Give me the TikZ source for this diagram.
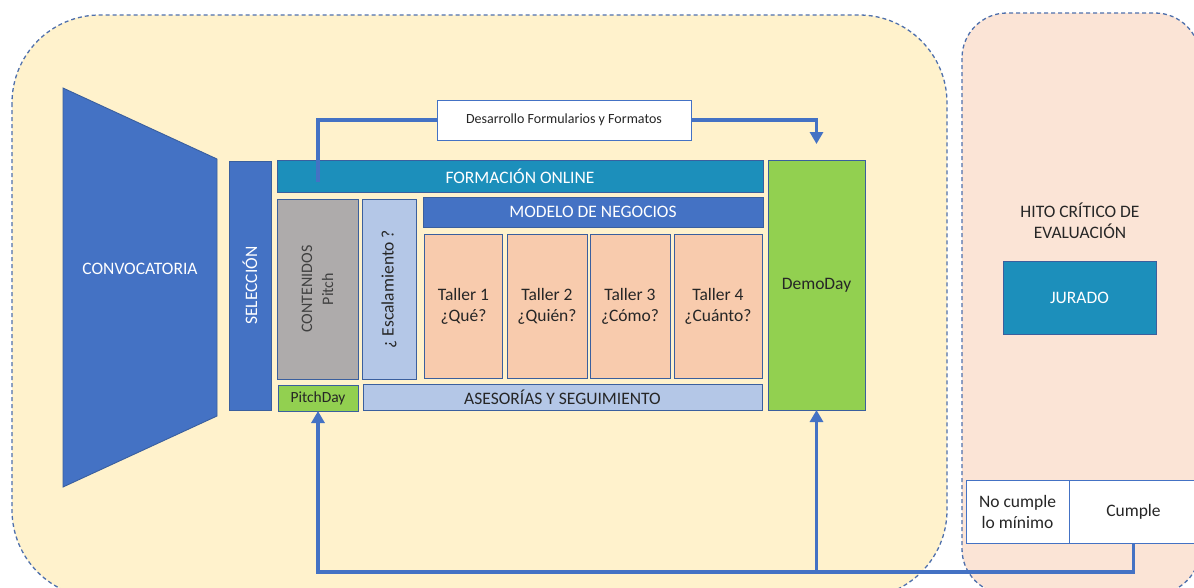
\documentclass[tikz,border=0pt]{standalone}
\usepackage{fontspec}
\setmainfont{Carlito}
\usetikzlibrary{arrows.meta}
\definecolor{bgY}{HTML}{FFF2CC}
\definecolor{bgP}{HTML}{FBE4D6}
\definecolor{dashc}{HTML}{4F70AC}
\definecolor{blu}{HTML}{4472C4}
\definecolor{bdr}{HTML}{3A5F9E}
\definecolor{teal}{HTML}{1C8FBB}
\definecolor{gry}{HTML}{AEABAB}
\definecolor{lblu}{HTML}{B4C7E7}
\definecolor{pch}{HTML}{F8CBAD}
\definecolor{grn}{HTML}{92D050}
\definecolor{txt}{HTML}{262626}
\newcommand\fsA{\fontsize{17.5}{21}\selectfont}
\newcommand\fsB{\fontsize{14}{17}\selectfont}
\newcommand\fsC{\fontsize{16}{21}\selectfont}
\begin{document}
\begin{tikzpicture}[x=1pt,y=-1pt,
  box/.style={draw=bdr, line width=0.9pt, inner sep=0pt, outer sep=0pt, align=center, font=\fsA, text=txt},
  wbox/.style={box, text=white},
  region/.style={draw=dashc, line width=1.3pt, dash pattern=on 4pt off 3pt},
  conn/.style={draw=blu, line width=3.5pt},
  tip/.style={-{Triangle[width=13pt,length=12pt]}}]
\useasboundingbox (0,0) rectangle (1194,587);
\clip (0,0) rectangle (1194,587);
% regions
\draw[region, fill=bgY, rounded corners=88pt] (12,15) rectangle (947,598);
\draw[region, fill=bgP, rounded corners=45pt] (962,13) rectangle (1200,594);
% convocatoria
\fill[blu, draw=bdr, line width=0.9pt] (63,88) -- (217,159) -- (217,416) -- (63,487) -- cycle;
\node[font=\fsA, text=white] (conv) at (140,269) {CONVOCATORIA};
% boxes
\node[wbox, fill=blu, minimum width=249, minimum height=42, rotate=90] (sel) at (250,285.5) {SELECCIÓN};
\node[wbox, fill=teal, minimum width=486, minimum height=32] (form) at (520,176) {FORMACIÓN ONLINE};
\node[box, fill=gry, minimum height=81, minimum width=180, rotate=90, font=\fsC, text=black!75] (cont) at (317.5,289) {CONTENIDOS\\Pitch};
\node[box, fill=lblu, minimum height=54, minimum width=180, rotate=90] (esc) at (389,289) {¿ Escalamiento ?};
\node[wbox, fill=blu, minimum width=340, minimum height=30] (mod) at (593,212) {MODELO DE NEGOCIOS};
\node[box, fill=pch, minimum width=78, minimum height=144] (t1) at (463.5,306) {Taller 1\\¿Qué?};
\node[box, fill=pch, minimum width=80, minimum height=144] (t2) at (547,306) {Taller 2\\¿Quién?};
\node[box, fill=pch, minimum width=80, minimum height=144] (t3) at (630,306) {Taller 3\\¿Cómo?};
\node[box, fill=pch, minimum width=88, minimum height=144] (t4) at (718,306) {Taller 4\\¿Cuánto?};
\node[box, fill=grn, minimum width=80, minimum height=26, font=\fontsize{15.5}{18}\selectfont] (pitch) at (318,398) {PitchDay};
\node[box, fill=lblu, minimum width=399, minimum height=26] (ases) at (562.5,397.5) {ASESORÍAS Y SEGUIMIENTO};
\node[box, fill=grn, minimum width=97, minimum height=250] (demo) at (816.5,285) {DemoDay};
\node[box, fill=white, draw=blu, minimum width=254, minimum height=40, font=\fsB] (des) at (564,120) {Desarrollo Formularios y Formatos};
% right region
\node[font=\fsA, text=txt, align=center] (hito) at (1080,221) {HITO CRÍTICO DE\\EVALUACIÓN};
\node[wbox, fill=teal, minimum width=153, minimum height=73] (jur) at (1079.5,297.5) {JURADO};
\node[box, fill=white, draw=blu, minimum width=103, minimum height=63] (no) at (1017.5,511.5) {No cumple\\lo mínimo};
\node[box, fill=white, draw=blu, minimum width=129, minimum height=63] (cum) at (1133.5,511.5) {Cumple};
% connectors
\coordinate (fs) at (318,182);
\coordinate (bot) at (0,572);
\draw[conn] (fs) |- (des.west);
\draw[conn, tip, shorten >=16pt] (des.east) -| (demo.north);
\draw[conn, tip] (cum.south) -- (cum.south |- bot) -| (pitch.south);
\draw[conn, tip] (demo.south |- bot) -- (demo.south);
\end{tikzpicture}
\end{document}
